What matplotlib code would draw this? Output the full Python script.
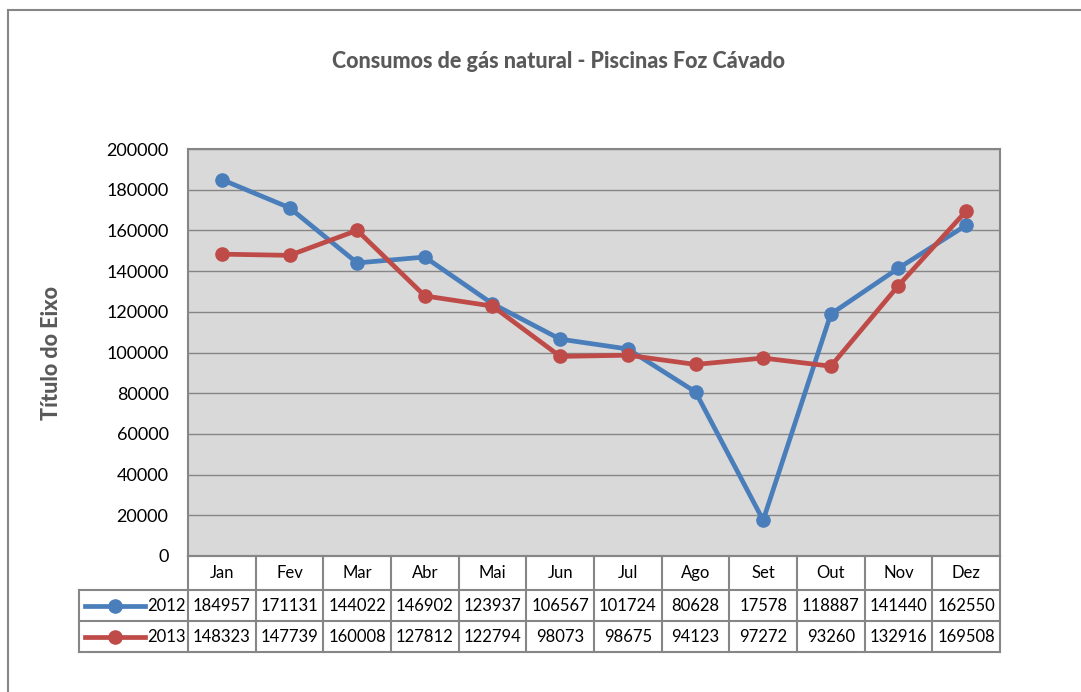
import matplotlib.pyplot as plt
import matplotlib.patches as patches
from matplotlib.lines import Line2D

plt.rcParams['font.family'] = ['Lato', 'DejaVu Sans']

# dados
meses = ['Jan', 'Fev', 'Mar', 'Abr', 'Mai', 'Jun', 'Jul', 'Ago', 'Set', 'Out', 'Nov', 'Dez']
v2012 = [184957, 171131, 144022, 146902, 123937, 106567, 101724, 80628, 17578, 118887, 141440, 162550]
v2013 = [148323, 147739, 160008, 127812, 122794, 98073, 98675, 94123, 97272, 93260, 132916, 169508]
series = [('2012', v2012, '#4A7EBB'), ('2013', v2013, '#BE4B48')]
y_ticks = list(range(0, 200001, 20000))

W, H = 1081, 692
fig = plt.figure(figsize=(W / 100, H / 100), dpi=100)

def fx(px):
    return px / W

def fy(py):
    return 1 - py / H

# moldura exterior
fig.patches.append(patches.Rectangle((fx(8), fy(900)), fx(1200), fy(10) - fy(900),
                                     transform=fig.transFigure, fill=False,
                                     edgecolor='#868686', linewidth=1.5))

left, right, top, bottom = 188, 1000, 149, 556
ax = fig.add_axes([fx(left), fy(bottom), fx(right - left), fy(top) - fy(bottom)])
ax.set_facecolor('#D9D9D9')
x = list(range(len(meses)))
for nome, vals, cor in series:
    ax.plot(x, vals, color=cor, linewidth=3.4, marker='o', markersize=9.5, label=nome)

ax.set_xlim(-0.5, len(meses) - 0.5)
ax.set_ylim(0, 200000)
ax.set_yticks(y_ticks)
ax.set_yticklabels([str(t) for t in y_ticks], fontsize=13)
ax.yaxis.grid(True, color='#868686', linewidth=1)
ax.set_axisbelow(True)
ax.set_xticks([])
ax.tick_params(axis='y', length=0, pad=14)
for s in ax.spines.values():
    s.set_color('#868686')
    s.set_linewidth(1.5)

fig.text(fx(52), fy(353), 'Título do Eixo', rotation=90, ha='center', va='center',
         fontsize=15.5, fontweight='black', color='#595959')
fig.text(fx(559), fy(62), 'Consumos de gás natural - Piscinas Foz Cávado', ha='center',
         va='center', fontsize=15.5, fontweight='black', color='#595959')

# tabela de dados
col_w = (right - left) / len(meses)
leg_px = left - 79
tx0 = -0.5 - leg_px / col_w
tab = fig.add_axes([fx(79), fy(652), fx(right - 79), fy(556) - fy(652)])
tab.set_xlim(tx0, len(meses) - 0.5)
tab.set_ylim(0, 3.1)
tab.axis('off')
gc = '#868686'
lw = 1.5
# linhas horizontais
tab.plot([-0.5, 11.5], [3.1, 3.1], color=gc, lw=lw)
for yv in [2.0, 1.0, 0.0]:
    tab.plot([tx0, 11.5], [yv, yv], color=gc, lw=lw)
# linhas verticais
for i in range(len(meses) + 1):
    tab.plot([i - 0.5, i - 0.5], [0, 3.1], color=gc, lw=lw)
tab.plot([tx0, tx0], [0, 2.0], color=gc, lw=lw)
for c in tab.lines:
    c.set_clip_on(False)

for i, m in enumerate(meses):
    tab.text(i, 2.55, m, ha='center', va='center', fontsize=12)
for r, (nome, vals, cor) in enumerate(series):
    yc = 1.5 - r
    for i, v in enumerate(vals):
        tab.text(i, yc, str(v), ha='center', va='center', fontsize=12)
    a = tx0 + 6 / col_w
    b = tx0 + 66 / col_w
    ln = Line2D([a, (a + b) / 2, b], [yc, yc, yc], color=cor, lw=3.4,
                marker='o', markersize=9.5, markevery=[1])
    tab.add_line(ln)
    tab.text(-0.5 - 2 / col_w, yc, nome, ha='right', va='center', fontsize=12)

fig.savefig('out.png', dpi=100)
